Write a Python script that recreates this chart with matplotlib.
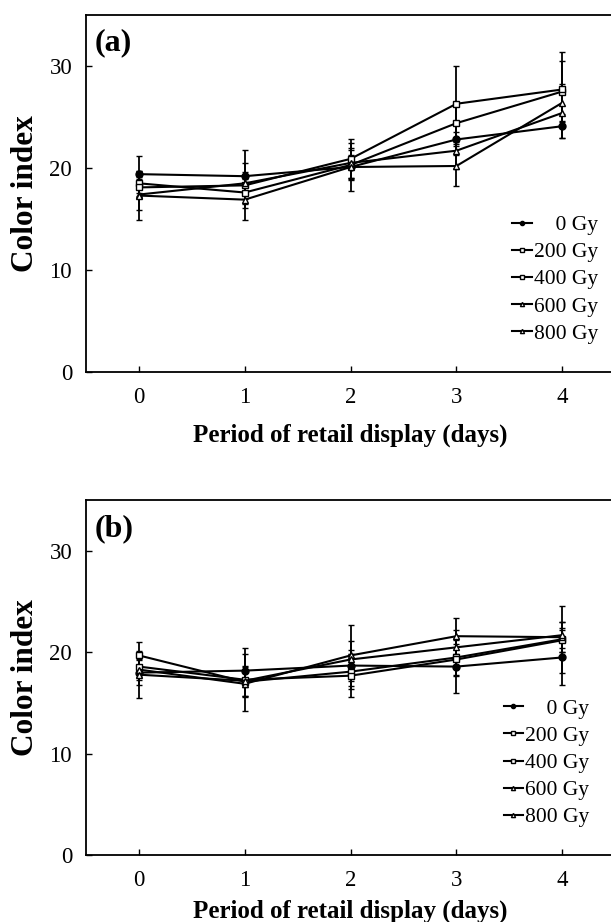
import matplotlib
matplotlib.use("Agg")
import matplotlib.pyplot as plt

plt.rcParams['font.family'] = ['Liberation Serif', 'DejaVu Serif']

days = [0, 1, 2, 3, 4]
doses = ['    0 Gy', '200 Gy', '400 Gy', '600 Gy', '800 Gy']

# panel (a) means and error
a_0 = [19.4, 19.2, 20.1, 22.8, 24.1]
a_200 = [18.5, 17.6, 20.3, 24.4, 27.5]
a_400 = [18.1, 18.3, 20.9, 26.3, 27.7]
a_600 = [17.4, 18.5, 20.5, 21.7, 25.4]
a_800 = [17.3, 16.9, 20.1, 20.2, 26.4]
a_err0 = [1.8, 2.6, 1.2, 1.5, 1.2]
a_err200 = [1.2, 1.5, 1.5, 2.0, 3.0]
a_err400 = [1.0, 1.3, 1.9, 3.7, 3.7]
a_err600 = [1.5, 2.0, 1.5, 1.8, 2.5]
a_err800 = [2.4, 2.0, 2.4, 2.0, 1.8]

# panel (b)
b_0 = [18.0, 18.2, 18.7, 18.6, 19.5]
b_200 = [19.7, 17.1, 18.1, 19.5, 21.3]
b_400 = [18.6, 17.3, 17.7, 19.3, 21.2]
b_600 = [18.3, 16.9, 19.7, 21.6, 21.5]
b_800 = [17.8, 17.2, 19.3, 20.5, 21.7]
b_err0 = [1.2, 1.6, 1.5, 2.6, 2.7]
b_err200 = [1.3, 1.5, 1.7, 1.8, 3.3]
b_err400 = [1.0, 3.1, 2.1, 1.5, 1.2]
b_err600 = [1.0, 1.2, 3.0, 1.8, 1.5]
b_err800 = [2.3, 1.5, 1.8, 1.7, 1.3]

markers = ['o', 's', 's', '^', '^']
faces = ['black', 'white', 'white', 'white', 'white']

fig = plt.figure(figsize=(6.11, 9.22), dpi=100)
ax_a = fig.add_axes([0.1408, 0.5965, 0.866, 0.3872])
ax_b = fig.add_axes([0.1408, 0.0727, 0.866, 0.3845])


def panel(ax, means, errs, tag, leg_anchor, xpad):
    handles = []
    for m, e, mk, fc, lab in zip(means, errs, markers, faces, doses):
        c = ax.errorbar(days, m, yerr=e, color='black', lw=1.5, marker=mk,
                        ms=5, mfc=fc, mec='black', mew=1.0,
                        elinewidth=1.3, capsize=2.2, capthick=1.0, label=lab)
        handles.append(c[0])
    ax.set_xlim(-0.5, 4.5)
    ax.set_ylim(0, 35)
    ax.set_xticks(days)
    ax.set_yticks([0, 10, 20, 30])
    ax.tick_params(direction='in', length=4, width=1, labelsize=16.5)
    ax.tick_params(axis='x', pad=11)
    ax.tick_params(axis='y', pad=10)
    for s in ax.spines.values():
        s.set_linewidth(1.3)
    ax.set_xlabel('Period of retail display (days)', fontsize=18,
                  fontweight='bold', labelpad=xpad)
    ax.set_ylabel('Color index', fontsize=22.5, fontweight='bold', labelpad=7)
    ax.text(0.017, 0.962, tag, transform=ax.transAxes, fontsize=23,
            fontweight='bold', va='top', ha='left')
    ax.legend(handles=handles, labels=doses, loc='lower right',
              bbox_to_anchor=leg_anchor, frameon=False,
              fontsize=15.5, handlelength=0.9, handletextpad=0.1,
              labelspacing=0.33, borderpad=0.2, markerscale=0.6)


panel(ax_a, [a_0, a_200, a_400, a_600, a_800],
      [a_err0, a_err200, a_err400, a_err600, a_err800], '(a)',
      (0.996, 0.037), 11)
panel(ax_b, [b_0, b_200, b_400, b_600, b_800],
      [b_err0, b_err200, b_err400, b_err600, b_err800], '(b)',
      (0.98, 0.035), 6)

fig.savefig('out.png', dpi=100)
